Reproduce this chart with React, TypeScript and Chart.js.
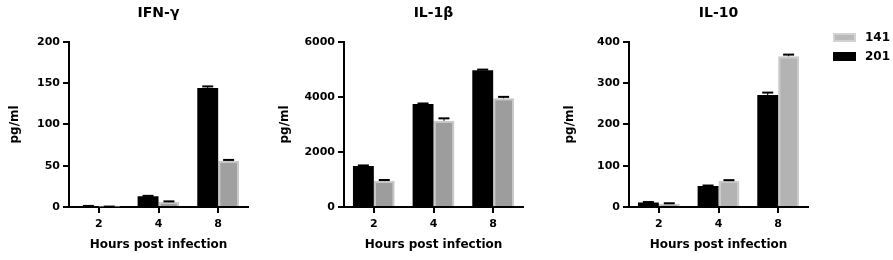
import { useEffect, useRef } from 'react';
import { Chart, registerables } from 'chart.js';

Chart.register(...registerables);

// ---- data ----
const hours = ['2', '4', '8'];
const seriesLabels = ['201', '141'];

const ifnG201 = [1, 13, 144];
const ifnG201Err = [0.3, 0.5, 2];
const ifnG141 = [0.3, 6, 56];
const ifnG141Err = [0.2, 0.8, 1];

const il1b201 = [1490, 3740, 4970];
const il1b201Err = [20, 20, 20];
const il1b141 = [940, 3130, 3950];
const il1b141Err = [40, 90, 50];

const il10201 = [11, 51, 271];
const il10201Err = [1, 1, 6];
const il10141 = [8, 63, 365];
const il10141Err = [1, 2, 4];

const ifnTicks = { max: 200, step: 50 };
const il1bTicks = { max: 6000, step: 2000 };
const il10Ticks = { max: 400, step: 100 };

const FONT = 'DejaVu Sans';

const errorBarPlugin = {
  id: 'errorBars',
  afterDatasetsDraw(chart: any) {
    const { ctx } = chart;
    const yScale = chart.scales.y;
    chart.data.datasets.forEach((ds: any, i: number) => {
      const meta = chart.getDatasetMeta(i);
      meta.data.forEach((bar: any, j: number) => {
        const v = ds.data[j];
        const e = ds.errors[j];
        const top = yScale.getPixelForValue(v + e);
        ctx.save();
        ctx.strokeStyle = '#000';
        ctx.lineWidth = 1;
        ctx.beginPath();
        ctx.moveTo(bar.x, bar.y);
        ctx.lineTo(bar.x, top);
        ctx.stroke();
        ctx.lineWidth = 2;
        ctx.beginPath();
        ctx.moveTo(bar.x - 5.5, top);
        ctx.lineTo(bar.x + 5.5, top);
        ctx.stroke();
        ctx.restore();
      });
    });
  },
};

type PanelProps = {
  title: string;
  s201: number[];
  e201: number[];
  s141: number[];
  e141: number[];
  max: number;
  step: number;
  left: number;
  width: number;
  yWidth: number;
  padRight: number;
  gray: string;
};

function Panel(p: PanelProps) {
  const ref = useRef<HTMLCanvasElement>(null);
  useEffect(() => {
    if (!ref.current) return;
    const tickFont = { family: FONT, size: 11, weight: 'bold' as const };
    const titleFont = { family: FONT, size: 12, weight: 'bold' as const };
    const chart = new Chart(ref.current, {
      type: 'bar',
      data: {
        labels: hours,
        datasets: [
          {
            label: seriesLabels[0],
            data: p.s201,
            errors: p.e201,
            backgroundColor: '#000',
            borderWidth: 0,
          } as any,
          {
            label: seriesLabels[1],
            data: p.s141,
            errors: p.e141,
            backgroundColor: p.gray,
            borderColor: '#c9c9c9',
            borderWidth: 2,
          } as any,
        ],
      },
      options: {
        responsive: false,
        animation: false,
        layout: { padding: { left: 0, right: p.padRight, top: 0, bottom: 0 } },
        datasets: { bar: { categoryPercentage: 0.7, barPercentage: 1 } },
        plugins: {
          legend: { display: false },
          tooltip: { enabled: false },
          title: {
            display: true,
            text: p.title,
            color: '#000',
            font: { family: FONT, size: 14, weight: 'bold' },
            padding: { top: 5, bottom: 20 },
            fullSize: false,
          },
        },
        scales: {
          x: {
            offset: true,
            ticks: { color: '#000', font: tickFont, padding: 5 },
            grid: {
              display: true,
              drawOnChartArea: false,
              drawTicks: true,
              tickLength: 6,
              offset: false,
              color: '#000',
              lineWidth: 2,
            },
            border: { display: true, color: '#000', width: 2 },
            title: {
              display: true,
              text: 'Hours post infection',
              color: '#000',
              font: titleFont,
              padding: { top: 4, bottom: 8 },
            },
            afterFit: (s: any) => {
              s.height = 53;
            },
          },
          y: {
            min: 0,
            max: p.max,
            ticks: {
              stepSize: p.step,
              color: '#000',
              font: tickFont,
              padding: 3,
              callback: (v: any) => String(v),
            },
            grid: {
              display: true,
              drawOnChartArea: false,
              drawTicks: true,
              tickLength: 6,
              color: '#000',
              lineWidth: 2,
            },
            border: { display: true, color: '#000', width: 2 },
            title: {
              display: true,
              text: 'pg/ml',
              color: '#000',
              font: titleFont,
              padding: { top: 4, bottom: 0 },
            },
            afterFit: (s: any) => {
              s.width = p.yWidth;
            },
          },
        },
      } as any,
      plugins: [errorBarPlugin],
    });
    return () => chart.destroy();
  }, []);
  return (
    <canvas
      ref={ref}
      width={p.width}
      height={260}
      style={{ position: 'absolute', left: p.left, top: 0, width: p.width, height: 260 }}
    />
  );
}

const legendItems = [
  { label: seriesLabels[1], fill: '#b9b9b9', border: '#d2d2d2' },
  { label: seriesLabels[0], fill: '#000', border: '#000' },
];

export default function App() {
  return (
    <div style={{ position: 'absolute', left: 0, top: 0, width: 893, height: 260, background: '#fff' }}>
      <Panel title="IFN-γ" s201={ifnG201} e201={ifnG201Err} s141={ifnG141} e141={ifnG141Err}
        max={ifnTicks.max} step={ifnTicks.step} left={4} width={270} yWidth={65} padRight={26} gray="#a0a0a0" />
      <Panel title="IL-1β" s201={il1b201} e201={il1b201Err} s141={il1b141} e141={il1b141Err}
        max={il1bTicks.max} step={il1bTicks.step} left={274} width={285} yWidth={70} padRight={36} gray="#9d9d9d" />
      <Panel title="IL-10" s201={il10201} e201={il10201Err} s141={il10141} e141={il10141Err}
        max={il10Ticks.max} step={il10Ticks.step} left={559} width={334} yWidth={70} padRight={85} gray="#b3b3b3" />
      <div style={{ position: 'absolute', left: 833, top: 31, fontFamily: FONT, fontSize: 12, fontWeight: 'bold', color: '#000' }}>
        {legendItems.map((it) => (
          <div key={it.label} style={{ display: 'flex', alignItems: 'center', height: 13, marginBottom: 6 }}>
            <span style={{ display: 'inline-block', boxSizing: 'border-box', width: 23, height: 9, background: it.fill, border: `2px solid ${it.border}`, marginRight: 9 }} />
            <span style={{ lineHeight: '13px' }}>{it.label}</span>
          </div>
        ))}
      </div>
    </div>
  );
}
